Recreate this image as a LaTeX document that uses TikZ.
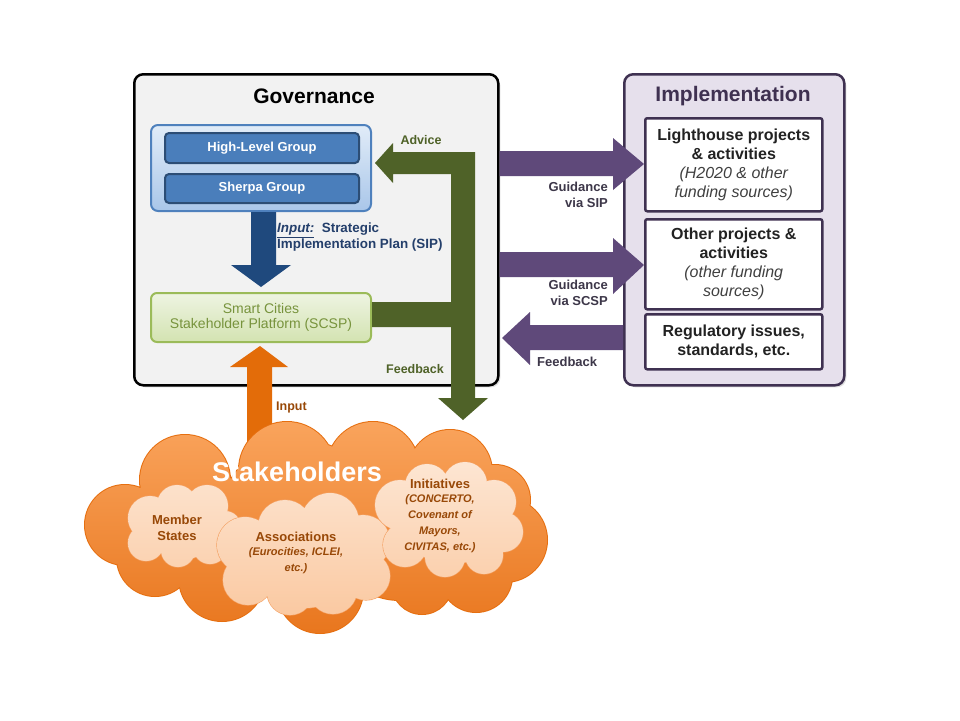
\documentclass[tikz,border=0pt]{standalone}
\usepackage{fontspec}
\setmainfont{Liberation Sans}
\usetikzlibrary{shadows,calc}
\definecolor{govfill}{HTML}{F2F2F2}
\definecolor{bluetop}{HTML}{E1ECF8}
\definecolor{bluebot}{HTML}{A9C6E9}
\definecolor{blueedge}{HTML}{4F81BD}
\definecolor{innerfill}{HTML}{4A7EBB}
\definecolor{inneredge}{HTML}{2C4D75}
\definecolor{bluearr}{HTML}{1F497D}
\definecolor{inputblue}{HTML}{243F6B}
\definecolor{scsptop}{HTML}{EEF4E2}
\definecolor{scspbot}{HTML}{D3E3B1}
\definecolor{scspedge}{HTML}{9BBB59}
\definecolor{scsptext}{HTML}{77933C}
\definecolor{olive}{HTML}{4F6228}
\definecolor{implfill}{HTML}{E6E0EC}
\definecolor{impledge}{HTML}{3F3151}
\definecolor{purplearr}{HTML}{5F497A}
\definecolor{labelgray}{HTML}{3D3749}
\definecolor{boxtext}{HTML}{222222}
\definecolor{italgray}{HTML}{404040}
\definecolor{orangearr}{HTML}{E36C09}
\definecolor{brown}{HTML}{984807}
\definecolor{cloudtop}{HTML}{FAA55E}
\definecolor{cloudbot}{HTML}{E8751C}
\definecolor{cloudline}{HTML}{E66F10}
\definecolor{smalltop}{HTML}{FDE6D3}
\definecolor{smallbot}{HTML}{FAC8A0}
\definecolor{smallline}{HTML}{F4A265}
\newcommand\fsz[2]{\fontsize{#1}{#2}\selectfont}
\def\bigcloud{(185pt,-480pt) circle (45pt) (287pt,-470pt) circle (48pt)
 (373pt,-468pt) circle (46pt) (450pt,-472pt) circle (42pt) (495pt,-500pt) circle (35pt)
 (505pt,-540pt) circle (42pt) (476pt,-576pt) circle (36pt) (422pt,-584pt) circle (30pt)
 (320pt,-590pt) circle (43pt) (222pt,-578pt) circle (43pt) (155pt,-558pt) circle (38pt)
 (125pt,-525pt) circle (40pt) (300pt,-520pt) circle (80pt) (400pt,-530pt) circle (70pt)
 (200pt,-530pt) circle (60pt) (455pt,-545pt) circle (50pt)}
\def\memcloud{(150pt,-518pt) circle (22pt) (177pt,-505pt) circle (20pt) (207pt,-506pt) circle (21pt)
 (225pt,-527pt) circle (16pt) (210pt,-547pt) circle (17pt) (178pt,-550pt) circle (17pt)
 (146pt,-543pt) circle (18pt) (182pt,-527pt) circle (33pt)}
\def\asscloud{(245pt,-545pt) circle (28pt) (285pt,-527pt) circle (27pt) (330pt,-522pt) circle (29pt)
 (363pt,-542pt) circle (27pt) (366pt,-576pt) circle (24pt) (333pt,-590pt) circle (24pt)
 (290pt,-592pt) circle (23pt) (248pt,-580pt) circle (25pt) (305pt,-558pt) circle (50pt)}
\def\inicloud{(400pt,-505pt) circle (25pt) (427pt,-486pt) circle (22pt) (465pt,-484pt) circle (22pt)
 (494pt,-502pt) circle (22pt) (503pt,-532pt) circle (20pt) (484pt,-555pt) circle (19pt)
 (445pt,-557pt) circle (20pt) (405pt,-545pt) circle (22pt) (450pt,-520pt) circle (45pt)}
\begin{document}
\begin{tikzpicture}[x=1pt,y=-1pt,
  every node/.style={inner sep=0pt},
  govbox/.style={draw=black, line width=2.5pt, fill=govfill, rounded corners=9pt,
    drop shadow={shadow xshift=2pt, shadow yshift=-2pt, opacity=0.25}},
  implbox/.style={draw=impledge, line width=2.5pt, fill=implfill, rounded corners=9pt,
    drop shadow={shadow xshift=2pt, shadow yshift=-2pt, opacity=0.25}},
  groupbox/.style={draw=blueedge, line width=2pt, top color=bluetop, bottom color=bluebot,
    rounded corners=7pt},
  innerbox/.style={draw=inneredge, line width=2pt, fill=innerfill, rounded corners=4pt,
    text=white, font=\fsz{13}{15}\bfseries},
  scspbox/.style={draw=scspedge, line width=2pt, top color=scsptop, bottom color=scspbot,
    rounded corners=6pt, text=scsptext, align=center, font=\fsz{14}{15.5}},
  whitebox/.style={draw=impledge, line width=2.5pt, fill=white, rounded corners=2pt,
    align=center, text=boxtext, font=\fsz{16}{19}\bfseries, minimum width=177pt},
  greenlbl/.style={text=olive, font=\fsz{12.5}{15}\bfseries},
  purplelbl/.style={text=labelgray, font=\fsz{13}{16}\bfseries, align=right},
  brownlbl/.style={text=brown, font=\fsz{13}{16}\bfseries, align=center}
]
\useasboundingbox (0,0) rectangle (960,720);
\fill[white] (0,0) rectangle (960,720);

% ---------------- Governance ----------------
\node[govbox, minimum width=364pt, minimum height=311pt, anchor=north west] (gov) at (133,73) {};
\node[font=\fsz{21}{25}\bfseries] (govt) at (314,96) {Governance};
\node[groupbox, minimum width=220pt, minimum height=86pt, anchor=north west] (sg) at (150,124) {};
\node[innerbox, minimum width=194pt, minimum height=30pt, anchor=north west] (hl) at (164,132) {High-Level Group};
\node[innerbox, minimum width=194pt, minimum height=29pt, anchor=north west] (sh) at (164,173) {Sherpa Group};
\node[scspbox, minimum width=220pt, minimum height=49pt, anchor=north west] (scsp) at (150,292)
  {Smart Cities\\Stakeholder Platform (SCSP)};

% blue arrow SG -> SCSP
\fill[bluearr] ($(sg.south)+(-10,0)$) -- ($(sg.south)+(15,0)$) -- ($(scsp.north)+(15,-27)$)
  -- ($(scsp.north)+(30,-27)$) -- ($(scsp.north)+(0,-5)$) -- ($(scsp.north)+(-30,-27)$)
  -- ($(scsp.north)+(-10,-27)$) -- cycle;
\node[anchor=north west, align=left, text=inputblue, font=\fsz{13.4}{15.5}\bfseries] (sip) at (277,223)
  {\underline{\itshape Input:}\ \ Strategic\\Implementation Plan (SIP)};

% ---------------- Implementation ----------------
\node[implbox, minimum width=220pt, minimum height=311pt, anchor=north west] (impl) at (623,73) {};
\node[text=impledge, font=\fsz{21}{25}\bfseries] (implt) at (733,96) {Implementation};
\node[whitebox, minimum height=93pt, anchor=north west] (lh) at (644,117)
  {Lighthouse projects\\\& activities\\{\mdseries\itshape\color{italgray}(H2020 \& other}\\{\mdseries\itshape\color{italgray}funding sources)}};
\node[whitebox, minimum height=90pt, anchor=north west] (op) at (644,218)
  {Other projects \&\\activities\\{\mdseries\itshape\color{italgray}(other funding}\\{\mdseries\itshape\color{italgray}sources)}};
\node[whitebox, minimum height=55pt, anchor=north west] (reg) at (644,313)
  {Regulatory issues,\\standards, etc.};

% purple arrows
\fill[purplearr] (499.5,151) -- (613,151) -- (613,138) -- (lh.west |- 0,164) -- (613,190)
  -- (613,176) -- (499.5,176) -- cycle;
\fill[purplearr] (499.5,252) -- (613,252) -- (613,238) -- (op.west |- 0,265) -- (613,294)
  -- (613,277) -- (499.5,277) -- cycle;
\fill[purplearr] (impl.west |- 0,325) -- (530,325) -- (530,312) -- (502,338) -- (530,365)
  -- (530,350) -- (impl.west |- 0,350) -- cycle;
\node[purplelbl, anchor=east] (g1) at (608,195) {Guidance\\via SIP};
\node[purplelbl, anchor=east] (g2) at (608,293) {Guidance\\via SCSP};
\node[purplelbl, anchor=west] (fb2) at (537,362) {Feedback};

% green arrow (advice / feedback)
\fill[olive] (375,163) -- (393,143) -- (393,152) -- (475,152) -- (475,398) -- (488,398)
  -- (463,420) -- (438,398) -- (451,398) -- (451,327) -- (scsp.east |- 0,327)
  -- (scsp.east |- 0,302) -- (451,302) -- (451,174) -- (393,174) -- (393,183) -- cycle;
\node[greenlbl] (adv) at (421,140) {Advice};
\node[greenlbl] (fb1) at (415,369) {Feedback};

% orange arrow
\fill[orangearr] (247,445) -- (247,367) -- (230,367) -- ($(scsp.south)+(-1,3)$) -- (288,367)
  -- (272,367) -- (272,445) -- cycle;
\node[brownlbl, font=\fsz{12.5}{15}\bfseries, anchor=west] (inp) at (276,407) {Input};

% ---------------- Clouds ----------------
\draw[cloudline, line width=2pt] \bigcloud;
\begin{scope}
  \clip \bigcloud;
  \shade[top color=cloudtop, bottom color=cloudbot] (80,415) rectangle (555,640);
\end{scope}
\foreach \cl in {\memcloud,\asscloud,\inicloud}{
  \draw[smallline, line width=1.2pt] \cl;
  \begin{scope}
    \clip \cl;
    \shade[top color=smalltop, bottom color=smallbot] (110,460) rectangle (530,620);
  \end{scope}
}
\node[text=white, font=\fsz{27}{30}\bfseries] (stk) at (297,472) {Stakeholders};
\node[brownlbl] (ms) at (177,528) {Member\\States};
\node[brownlbl] (as) at (296,553) {Associations\\[-2pt]{\fsz{11}{13}\itshape (Eurocities, ICLEI,}\\{\fsz{11}{13}\itshape etc.)}};
\node[brownlbl] (ini) at (440,516) {Initiatives\\[-2pt]{\fsz{11}{12.7}\itshape (CONCERTO,}\\{\fsz{11}{12.7}\itshape Covenant of}\\{\fsz{11}{12.7}\itshape Mayors,}\\{\fsz{11}{12.7}\itshape CIVITAS, etc.)}};
\end{tikzpicture}
\end{document}
